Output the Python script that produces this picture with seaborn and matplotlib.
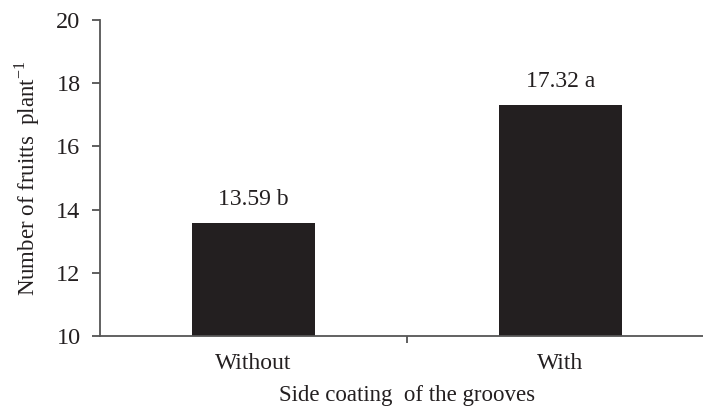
import matplotlib
matplotlib.use("Agg")
import matplotlib.pyplot as plt
import seaborn as sns
import pandas as pd

categories = ["Without", "With"]
values = [13.59, 17.32]
letters = ["b", "a"]
yticks = [10, 12, 14, 16, 18, 20]

df = pd.DataFrame({"coating": categories, "fruits": values})

sns.set_style("white")
plt.rcParams['font.family'] = ['Liberation Serif', 'DejaVu Serif']
plt.rcParams['mathtext.fontset'] = 'custom'
plt.rcParams['mathtext.rm'] = 'Liberation Serif'

fig = plt.figure(figsize=(7.03, 4.12), dpi=100)
ax = fig.add_axes([100/703, 76/412, 614/703, 316/412])

sns.barplot(data=df, x="coating", y="fruits", color="#231f20", width=0.4,
            saturation=1, ax=ax, edgecolor="none")

ax.set_xlim(-0.5, 1.5)
ax.set_ylim(10, 20)
ax.set_yticks(yticks)
ax.set_yticklabels([str(t) for t in yticks], fontsize=17.5, color="#231f20")
ax.tick_params(axis="y", direction="out", length=6, width=1.2, color="#444444", pad=8, left=True)
ax.tick_params(axis="x", which="major", length=0, pad=12, labelsize=17, labelcolor="#231f20")
ax.set_xticks([0.5], minor=True)
ax.tick_params(axis="x", which="minor", direction="out", length=5, width=1.2, color="#444444", bottom=True)

for s in ["top", "right"]:
    ax.spines[s].set_visible(False)
for s in ["left", "bottom"]:
    ax.spines[s].set_color("#555555")
    ax.spines[s].set_linewidth(1.3)

for i, (v, l) in enumerate(zip(values, letters)):
    ax.annotate(f"{v:.2f} {l}", (i, v), xytext=(0, 9), textcoords="offset points",
                ha="center", va="bottom", fontsize=17, color="#231f20")

ax.set_xlabel("Side coating  of the grooves", fontsize=16.5, color="#231f20", labelpad=8)
ax.set_ylabel("Number of fruitts  plant$^{\\mathregular{-1}}$", fontsize=16.5, color="#231f20", labelpad=10)

fig.savefig("out.png", dpi=100)
